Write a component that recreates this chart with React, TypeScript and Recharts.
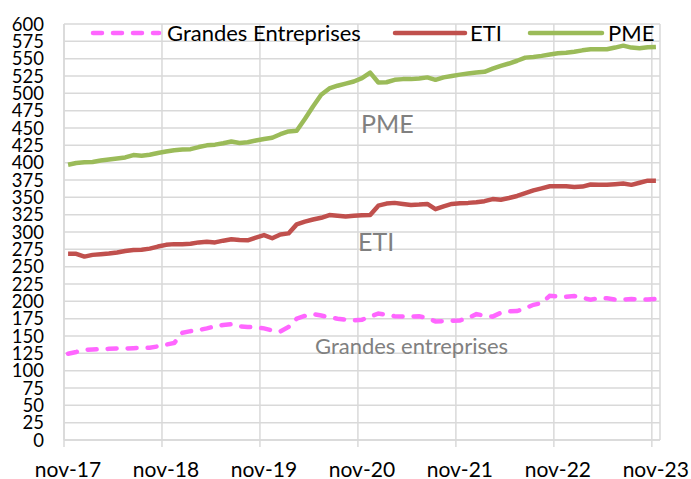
import { LineChart, Line, XAxis, YAxis, CartesianGrid } from "recharts";

const yearLabels = ["nov-17", "nov-18", "nov-19", "nov-20", "nov-21", "nov-22", "nov-23"];

const grandesEntreprises = [
  124.5, 127, 130, 130.5, 131, 131.5, 132, 132, 132.5, 133, 133, 135,
  137.5, 140, 154.5, 157, 158.5, 161, 164, 166, 167, 164, 163, 162.5,
  161, 158, 156.5, 163, 175, 179, 181.5, 179.5, 177, 175, 173.5, 172.5,
  173.5, 178, 182.5, 180.5, 178.5, 178, 178, 178.5, 176, 171, 171.5, 172,
  172.5, 176, 181.5, 179.5, 178, 183.5, 185.5, 186, 190, 195, 197.5, 208,
  207, 206.5, 207.5, 205, 202.5, 204.5, 204.5, 202.5, 202.5, 203.5, 202.5, 202.5,
  203.5,
];

const eti = [
  268.5, 268.5, 264.5, 267, 268, 269, 270.5, 272.5, 274, 274.5, 276, 279,
  281.5, 282.5, 282.5, 283, 285, 286, 285, 287.5, 289.5, 288.5, 288, 292,
  295.5, 291, 296.5, 298, 311, 315, 318, 320.5, 324.5, 323.5, 322.5, 323.5,
  324, 324.5, 338, 341, 342, 340.5, 339, 339.5, 340.5, 333, 337, 340.5,
  341.5, 342, 343, 344.5, 347.5, 346.5, 349, 352, 356, 360, 363, 366,
  366, 366, 365, 365.5, 368.5, 368, 368, 369, 370, 368, 371, 374,
  374,
];

const pme = [
  397, 399.5, 400.5, 401, 403, 404.5, 406, 407.5, 411, 410, 411.5, 414,
  416, 418, 419, 419.5, 422.5, 425, 426, 428, 430.5, 428.5, 429.5, 432,
  434, 436, 441, 445, 446, 463, 481, 498, 507, 511, 514, 517,
  522, 529.8, 515.7, 516, 519.5, 520.5, 520.5, 521.5, 523, 519.5, 523, 525,
  527, 528.5, 530, 531, 535.5, 539.5, 543, 547, 551.5, 552.5, 554, 556,
  557.7, 558.5, 560, 562, 563.5, 563.5, 563.5, 566, 568.8, 566, 565, 566.5,
  567,
];

const yTicks = Array.from({ length: 25 }, (_, i) => i * 25);
const xTicks = yearLabels.map((_, i) => i * 12);

// monthly values, plotted mid-month
const data = pme.map((v, i) => ({
  t: i + 0.5,
  ge: grandesEntreprises[i],
  eti: eti[i],
  pme: v,
}));

const PINK = "#ff66ff";
const RED = "#c0504d";
const GREEN = "#9bbb59";
const GRID = "#d9d9d9";
const FONT = "Lato, 'Open Sans', sans-serif";

export default function App() {
  return (
    <div style={{ position: "absolute", left: 0, top: 0, width: 691, height: 479, background: "#fff" }}>
      <LineChart width={691} height={479} data={data} margin={{ top: 24, right: 31, left: 0, bottom: 0 }}>
        <CartesianGrid stroke={GRID} strokeWidth={1.5} />
        <XAxis
          dataKey="t"
          type="number"
          domain={[0, 73]}
          ticks={xTicks}
          interval={0}
          height={39}
          tickFormatter={(v) => yearLabels[v / 12]}
          axisLine={{ stroke: GRID, strokeWidth: 1.5 }}
          tickLine={{ stroke: GRID, strokeWidth: 1.5 }}
          tickSize={7}
          tickMargin={15}
          tick={{ fill: "#000", fontSize: 21, fontFamily: FONT, dx: 4 }}
        />
        <YAxis
          domain={[0, 600]}
          ticks={yTicks}
          interval={0}
          width={64}
          axisLine={{ stroke: GRID, strokeWidth: 1.5 }}
          tickLine={false}
          tickSize={0}
          tickMargin={20}
          tick={{ fill: "#000", fontSize: 18.5, fontFamily: FONT }}
        />
        <Line dataKey="ge" stroke={PINK} strokeWidth={4.5} strokeDasharray="9 11" strokeLinecap="round" dot={false} isAnimationActive={false} />
        <Line dataKey="eti" stroke={RED} strokeWidth={4.5} strokeLinejoin="round" dot={false} isAnimationActive={false} />
        <Line dataKey="pme" stroke={GREEN} strokeWidth={4.5} strokeLinejoin="round" dot={false} isAnimationActive={false} />
      </LineChart>
      <svg width={691} height={479} style={{ position: "absolute", left: 0, top: 0, pointerEvents: "none" }} fontFamily={FONT}>
        {/* legend */}
        <line x1={93} y1={33} x2={159} y2={33} stroke={PINK} strokeWidth={4.5} strokeDasharray="9 11" strokeLinecap="round" />
        <text x={167} y={40.5} fontSize={22} fill="#000">Grandes Entreprises</text>
        <line x1={395} y1={33} x2={465} y2={33} stroke={RED} strokeWidth={4.5} strokeLinecap="round" />
        <text x={470} y={40.5} fontSize={22} fill="#000">ETI</text>
        <line x1={530} y1={33} x2={602} y2={33} stroke={GREEN} strokeWidth={4.5} strokeLinecap="round" />
        <text x={608} y={40.5} fontSize={22} fill="#000">PME</text>
        {/* series annotations */}
        <text x={361} y={133} fontSize={25} fill="#808080">PME</text>
        <text x={358} y={250.5} fontSize={25} fill="#808080">ETI</text>
        <text x={315} y={354} fontSize={22} fill="#808080">Grandes entreprises</text>
      </svg>
    </div>
  );
}
